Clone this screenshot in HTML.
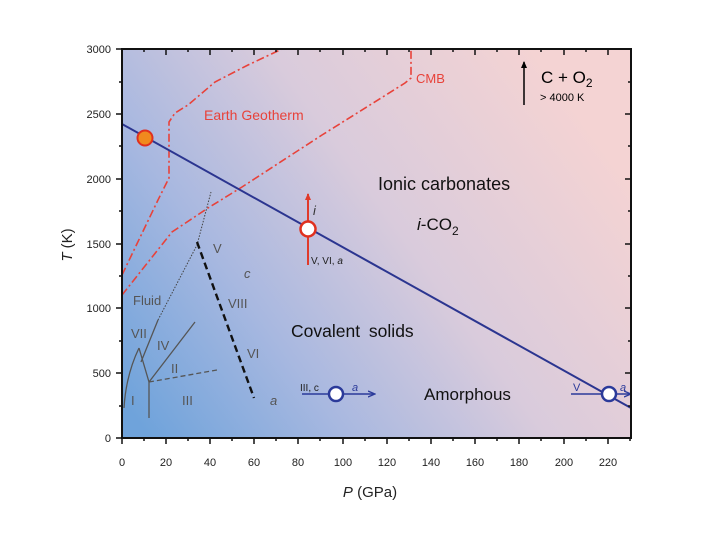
<!DOCTYPE html>
<html><head><meta charset="utf-8"><style>
html,body{margin:0;padding:0;background:#fff;}
svg{display:block;font-family:"Liberation Sans",sans-serif;}
</style></head><body>
<svg width="720" height="540" viewBox="0 0 720 540" xmlns="http://www.w3.org/2000/svg">
<defs>
<linearGradient id="bg" x1="0" y1="0.9" x2="1" y2="0.35">
<stop offset="0" stop-color="#6fa3db"/>
<stop offset="0.3" stop-color="#a8b8e0"/>
<stop offset="0.6" stop-color="#d9cbdc"/>
<stop offset="1" stop-color="#f4d3d3"/>
</linearGradient>
<marker id="ab" markerWidth="8" markerHeight="8" refX="6" refY="4" orient="auto" markerUnits="userSpaceOnUse"><path d="M0,1 L7,4 L0,7" fill="none" stroke="#2b3a9a" stroke-width="1.3"/></marker>
<marker id="ar" markerWidth="8" markerHeight="8" refX="6" refY="4" orient="auto" markerUnits="userSpaceOnUse"><path d="M0,1 L7,4 L0,7" fill="#e03a2a"/></marker>
<marker id="ak" markerWidth="8" markerHeight="8" refX="6" refY="4" orient="auto" markerUnits="userSpaceOnUse"><path d="M0,1 L7,4 L0,7" fill="#000"/></marker>
</defs>
<rect x="122" y="49" width="509" height="389" fill="url(#bg)"/>

<g fill="none" stroke="#e8423a" stroke-width="1.6" stroke-dasharray="8,3,2,3">
<polyline points="122,275 158,200 169,178 169,122 175,113 188,105 215,82 248,65 282,49"/>
<polyline points="122,295 172,232 208,208 242,187 322,135 405,83 411,78 411,49"/>
</g>

<g fill="none" stroke="#555" stroke-width="1.3">
<path d="M124,408 Q126,375 139,348"/>
<path d="M139,348 L149,382"/>
<path d="M149,382 L149,418"/>
<path d="M149,382 L195,322"/>
<path d="M141,362 L158,320"/>
</g>
<path d="M149,382 L217,370" stroke="#555" stroke-width="1.3" stroke-dasharray="5,3" fill="none"/>
<path d="M158,320 L197,245 L211,192" stroke="#444" stroke-width="1" stroke-dasharray="1.5,1.5" fill="none"/>
<path d="M197,242 L254,398" stroke="#111" stroke-width="2.4" stroke-dasharray="7,4" fill="none"/>

<line x1="122" y1="124" x2="631" y2="408" stroke="#2b3590" stroke-width="2"/>

<line x1="308" y1="265" x2="308" y2="194" stroke="#e03a2a" stroke-width="2" marker-end="url(#ar)"/>
<line x1="302" y1="394" x2="374" y2="394" stroke="#2b3a9a" stroke-width="1.5" marker-end="url(#ab)"/>
<line x1="571" y1="394" x2="630" y2="394" stroke="#2b3a9a" stroke-width="1.5" marker-end="url(#ab)"/>
<line x1="524" y1="105" x2="524" y2="62" stroke="#000" stroke-width="1.5" marker-end="url(#ak)"/>

<circle cx="145" cy="138" r="7.5" fill="#f08a1e" stroke="#e0301e" stroke-width="2"/>
<circle cx="308" cy="229" r="7.5" fill="#fff" stroke="#e0301e" stroke-width="2.5"/>
<circle cx="336" cy="394" r="7" fill="#fff" stroke="#2b3a9a" stroke-width="2.5"/>
<circle cx="609" cy="394" r="7" fill="#fff" stroke="#2b3a9a" stroke-width="2.5"/>

<g fill="#555" font-size="13">
<text x="133" y="305">Fluid</text>
<text x="131" y="338">VII</text>
<text x="157" y="350">IV</text>
<text x="171" y="373">II</text>
<text x="131" y="405">I</text>
<text x="182" y="405">III</text>
<text x="213" y="253">V</text>
<text x="244" y="278" font-style="italic">c</text>
<text x="228" y="308">VIII</text>
<text x="247" y="358">VI</text>
<text x="270" y="405" font-style="italic">a</text>
</g>
<text x="204" y="120" fill="#e8423a" font-size="14">Earth Geotherm</text>
<text x="416" y="83" fill="#e8423a" font-size="13">CMB</text>
<text x="541" y="83" fill="#000" font-size="17">C + O<tspan font-size="12" dy="4">2</tspan></text>
<text x="540" y="101" fill="#000" font-size="11">&gt; 4000 K</text>
<text x="378" y="190" fill="#111" font-size="18">Ionic carbonates</text>
<text x="417" y="230" fill="#111" font-size="17"><tspan font-style="italic">i</tspan>-CO<tspan font-size="12" dy="5">2</tspan></text>
<text x="291" y="337" fill="#111" font-size="17.5" word-spacing="4">Covalent solids</text>
<text x="424" y="400" fill="#111" font-size="17">Amorphous</text>
<text x="313" y="215" fill="#333" font-size="13" font-style="italic">i</text>
<text x="311" y="264" fill="#222" font-size="10">V, VI, <tspan font-style="italic">a</tspan></text>
<text x="300" y="391" fill="#222" font-size="10">III, c</text>
<text x="352" y="391" fill="#2b3a9a" font-size="11" font-style="italic">a</text>
<text x="573" y="391" fill="#2b3a9a" font-size="11">V</text>
<text x="620" y="391" fill="#2b3a9a" font-size="11" font-style="italic">a</text>

<rect x="122" y="49" width="509" height="389" fill="none" stroke="#111" stroke-width="2"/>
<g stroke="#111" stroke-width="1.5">
<path d="M122,438v6 M166,438v6 M210,438v6 M254,438v6 M298,438v6 M343,438v6 M387,438v6 M431,438v6 M475,438v6 M519,438v6 M564,438v6 M608,438v6
M144,438v3 M188,438v3 M232,438v3 M276,438v3 M320,438v3 M365,438v3 M409,438v3 M453,438v3 M497,438v3 M541,438v3 M586,438v3 M630,438v3
M166,49v6 M210,49v6 M254,49v6 M298,49v6 M343,49v6 M387,49v6 M431,49v6 M475,49v6 M519,49v6 M564,49v6 M608,49v6
M144,49v3 M188,49v3 M232,49v3 M276,49v3 M320,49v3 M365,49v3 M409,49v3 M453,49v3 M497,49v3 M541,49v3 M586,49v3"/>
<path d="M122,438h-6 M122,373h-6 M122,308h-6 M122,244h-6 M122,179h-6 M122,114h-6 M122,49h-6
M122,406h-3 M122,341h-3 M122,276h-3 M122,211h-3 M122,146h-3 M122,82h-3
M631,373h-6 M631,308h-6 M631,244h-6 M631,179h-6 M631,114h-6
M631,406h-3 M631,341h-3 M631,276h-3 M631,211h-3 M631,146h-3 M631,82h-3"/>
</g>
<g fill="#222" font-size="11" text-anchor="end">
<text x="111" y="442">0</text>
<text x="111" y="377">500</text>
<text x="111" y="312">1000</text>
<text x="111" y="248">1500</text>
<text x="111" y="183">2000</text>
<text x="111" y="118">2500</text>
<text x="111" y="53">3000</text>
</g>
<g fill="#222" font-size="11" text-anchor="middle">
<text x="122" y="466">0</text><text x="166" y="466">20</text><text x="210" y="466">40</text><text x="254" y="466">60</text><text x="298" y="466">80</text><text x="343" y="466">100</text><text x="387" y="466">120</text><text x="431" y="466">140</text><text x="475" y="466">160</text><text x="519" y="466">180</text><text x="564" y="466">200</text><text x="608" y="466">220</text>
</g>
<text x="370" y="497" font-size="15" text-anchor="middle" fill="#222"><tspan font-style="italic">P</tspan> (GPa)</text>
<text transform="translate(72,245) rotate(-90)" font-size="15" text-anchor="middle" fill="#222"><tspan font-style="italic">T</tspan> (K)</text>
</svg>
</body></html>
